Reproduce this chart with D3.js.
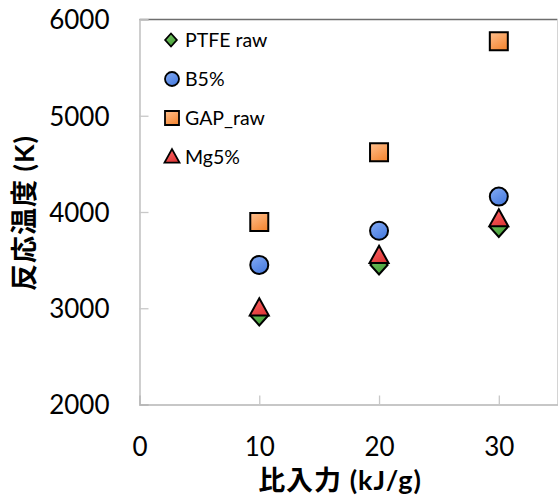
<!DOCTYPE html>
<html><head><meta charset="utf-8">
<script src="https://cdn.jsdelivr.net/npm/d3@7"></script>
<style>body{margin:0;background:#fff}</style>
</head><body>
<svg id="c" width="558" height="499"></svg>
<script>
const xValues = [10, 20, 30];
const seriesNames = ["PTFE raw", "B5%", "GAP_raw", "Mg5%"];
const ptfeRaw = [2920, 3450, 3840];
const b5 = [3450, 3805, 4160];
const gapRaw = [3895, 4620, 5775];
const mg5 = [3000, 3545, 3925];
const xTicks = [0, 10, 20, 30];
const yTicks = [2000, 3000, 4000, 5000, 6000];
const xTitle = "比入力 (kJ/g)";
const yTitle = "反応温度 (K)";

const svg = d3.select("#c");
const L = 139.5, R = 557.5, T = 19.5, B = 404.5;
const x = d3.scaleLinear().domain([0, 35]).range([L, L + (R - L) * 35 / 34.9]);
const y = d3.scaleLinear().domain([2000, 6000]).range([B, T]);
const font = "Lato, 'Noto Sans CJK JP', sans-serif";

const defs = svg.append("defs");
function grad(id, c1, c2) {
  const g = defs.append("linearGradient").attr("id", id).attr("x1", "0").attr("y1", "0").attr("x2", "0.6").attr("y2", "1");
  g.append("stop").attr("offset", "0").attr("stop-color", c1);
  g.append("stop").attr("offset", "1").attr("stop-color", c2);
}
grad("gG", "#7cc86a", "#46a038");
grad("gB", "#85acf5", "#4a7ddf");
grad("gO", "#ffc08f", "#f58a38");
grad("gR", "#ff6a6a", "#e03a3a");

// frame
svg.append("line").attr("x1", L).attr("x2", R).attr("y1", T).attr("y2", T).attr("stroke", "#6e6e6e").attr("stroke-width", 1.3);
svg.append("line").attr("x1", R).attr("x2", R).attr("y1", T).attr("y2", B).attr("stroke", "#d4d4d4").attr("stroke-width", 1);

// axes
const yAxis = d3.axisLeft(y).tickValues(yTicks).tickSize(-9).tickPadding(38).tickFormat(d3.format("d"));
const gy = svg.append("g").attr("transform", `translate(${L},0)`).call(yAxis);
gy.select(".domain").attr("stroke", "#b5b5b5").attr("stroke-width", 1.3);
gy.selectAll(".tick line").attr("stroke", "#c8c8c8").attr("stroke-width", 1.3);
gy.selectAll(".tick text").attr("font-family", font).attr("font-size", 26).attr("fill", "#000").attr("dy", "0.36em").attr("dx", "8");

const xAxis = d3.axisBottom(x).tickValues(xTicks).tickSize(-9).tickPadding(33).tickFormat(d3.format("d"));
const gx = svg.append("g").attr("transform", `translate(0,${B})`).call(xAxis);
gx.select(".domain").attr("stroke", "#b5b5b5").attr("stroke-width", 1.3);
gx.selectAll(".tick line").attr("stroke", "#c8c8c8").attr("stroke-width", 1.3);
gx.selectAll(".tick text").attr("font-family", font).attr("font-size", 26).attr("fill", "#000");
gx.selectAll(".tick").filter(d => d === 0).select("line").remove();

// titles
svg.append("text").attr("x", 340).attr("y", 490).attr("text-anchor", "middle")
  .attr("font-family", font).attr("font-weight", "bold").attr("font-size", 27).attr("letter-spacing", "1").text(xTitle);
svg.append("text").attr("transform", "translate(34,213) rotate(-90)").attr("text-anchor", "middle")
  .attr("font-family", font).attr("font-weight", "bold").attr("font-size", 27).attr("letter-spacing", "1").text(yTitle);

const sym = {
  diamond: s => `M0,${-s}L${s*0.9},0L0,${s}L${-s*0.9},0Z`,
  circle: s => d3.symbol(d3.symbolCircle, Math.PI * s * s)(),
  square: s => `M${-s},${-s}H${s}V${s}H${-s}Z`,
  triangle: s => `M0,${-s*1.05}L${s},${s*0.75}L${-s},${s*0.75}Z`
};
const series = [
  {name: seriesNames[0], vals: ptfeRaw, shape: "diamond", fill: "url(#gG)", size: 9.5},
  {name: seriesNames[1], vals: b5, shape: "circle", fill: "url(#gB)", size: 9},
  {name: seriesNames[2], vals: gapRaw, shape: "square", fill: "url(#gO)", size: 9},
  {name: seriesNames[3], vals: mg5, shape: "triangle", fill: "url(#gR)", size: 9.5}
];
series.forEach(s => {
  svg.append("g").selectAll("path").data(s.vals).join("path")
    .attr("transform", (d, i) => `translate(${x(xValues[i])},${y(d)})`)
    .attr("d", sym[s.shape](s.size))
    .attr("fill", s.fill).attr("stroke", "#000").attr("stroke-width", 2).attr("stroke-linejoin", "miter");
});

// legend
const lg = svg.append("g");
series.forEach((s, i) => {
  const cy = 40 + i * 39;
  const sz = s.shape === "diamond" ? 6.5 : (s.shape === "triangle" ? 7.5 : 7);
  lg.append("path").attr("transform", `translate(${s.shape === "diamond" ? 171 : 172},${cy})`)
    .attr("d", sym[s.shape](sz)).attr("fill", s.fill).attr("stroke", "#000").attr("stroke-width", 1.8);
  lg.append("text").attr("x", 185).attr("y", cy + 7).attr("font-family", font).attr("font-size", 19.5).text(s.name);
});
</script>
</body></html>
